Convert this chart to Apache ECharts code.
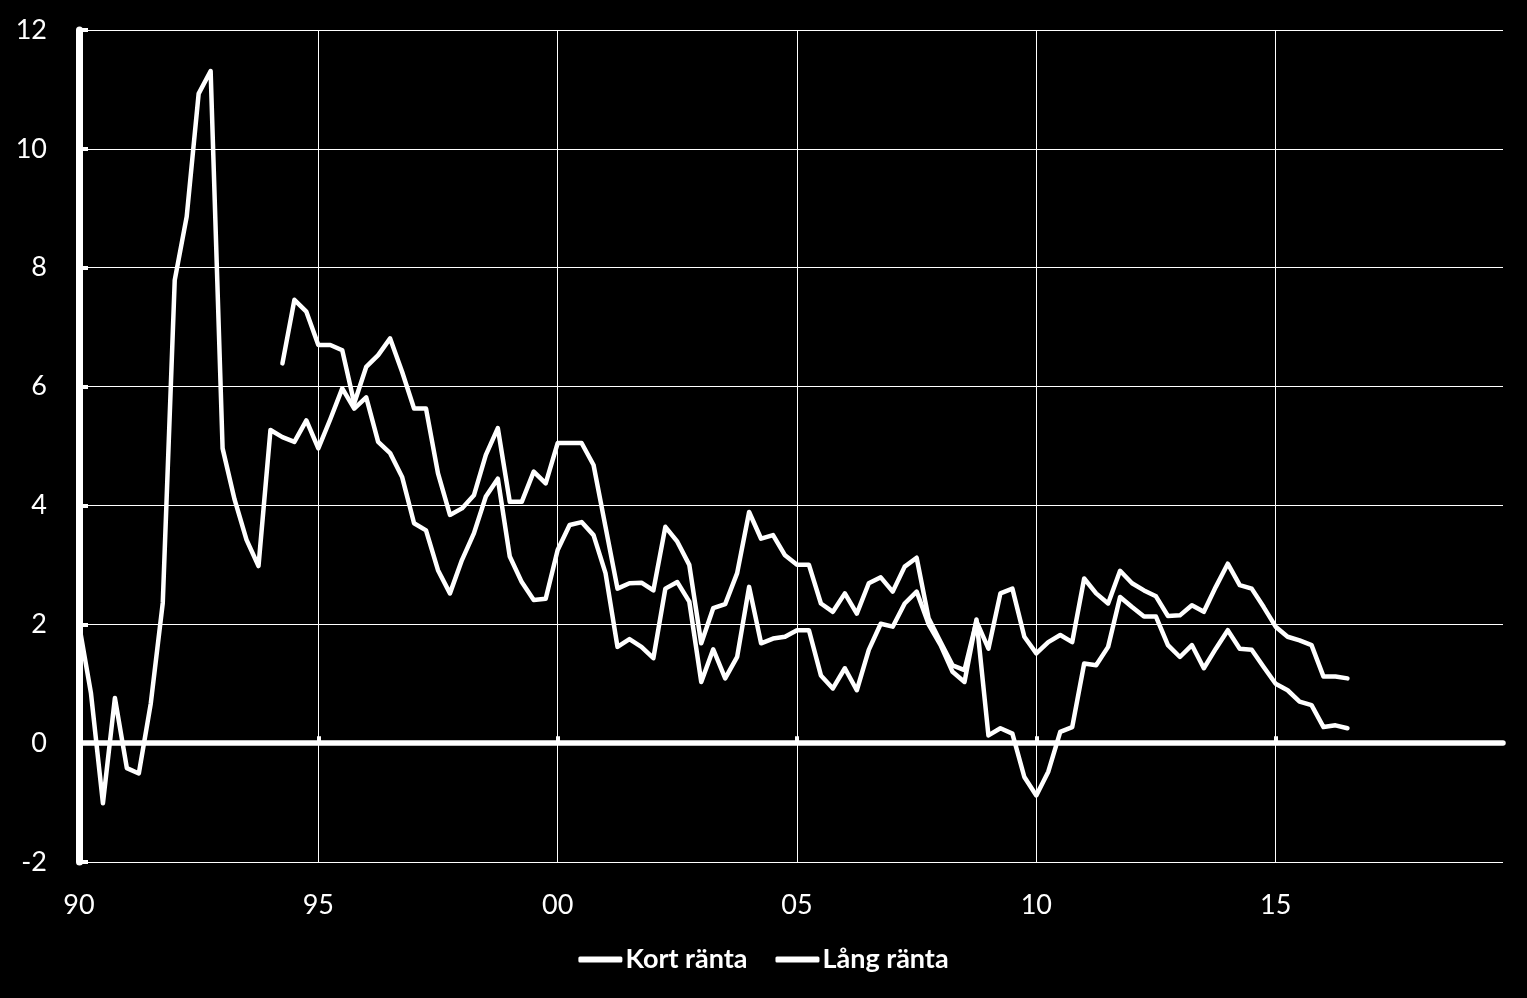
<!DOCTYPE html>
<html>
<head>
<meta charset="utf-8">
<script src="https://cdn.jsdelivr.net/npm/echarts@6/dist/echarts.min.js"></script>
<style>
html,body{margin:0;padding:0;background:#000;}
#chart{width:1527px;height:998px;}
</style>
</head>
<body>
<div id="chart"></div>
<script>
// Quarterly categories 1990Q1 .. 2019Q4
var years = [];
for (var y = 1990; y <= 2019; y++) years.push(y);
var categories = [];
years.forEach(function (yr) { for (var q = 1; q <= 4; q++) categories.push(yr + 'Q' + q); });

var tickLabels = ['90', '95', '00', '05', '10', '15'];

var seriesNames = ['Kort ränta', 'Lång ränta'];

var kortRanta = [
  2.0, 0.84, -1.01, 0.76, -0.42, -0.51, 0.67, 2.36, 7.79, 8.86,
  10.93, 11.31, 4.96, 4.1, 3.42, 2.98, 5.27, 5.15, 5.07, 5.43,
  4.96, 5.45, 5.97, 5.63, 5.82, 5.07, 4.88, 4.48, 3.70, 3.58,
  2.91, 2.52, 3.08, 3.53, 4.15, 4.45, 3.14, 2.71, 2.41, 2.43,
  3.25, 3.67, 3.72, 3.50, 2.86, 1.62, 1.75, 1.62, 1.43, 2.60,
  2.71, 2.38, 1.03, 1.58, 1.09, 1.45, 2.63, 1.68, 1.76, 1.79,
  1.90, 1.90, 1.14, 0.92, 1.26, 0.89, 1.57, 2.01, 1.96, 2.35,
  2.55, 2.0, 1.65, 1.2, 1.03, 2.08, 0.13, 0.25, 0.16, -0.57,
  -0.88, -0.48, 0.19, 0.27, 1.34, 1.31, 1.62, 2.46, 2.29, 2.13,
  2.13, 1.65, 1.45, 1.65, 1.26, 1.59, 1.90, 1.59, 1.57, 1.28,
  1.00, 0.89, 0.70, 0.64, 0.27, 0.30, 0.25
];

var langRanta = [
  null, null, null, null, null, null, null, null, null, null,
  null, null, null, null, null, null, null, 6.39, 7.46, 7.26,
  6.70, 6.70, 6.61, 5.72, 6.33, 6.53, 6.81, 6.25, 5.63, 5.63,
  4.54, 3.84, 3.95, 4.17, 4.85, 5.30, 4.06, 4.06, 4.57, 4.37,
  5.05, 5.05, 5.05, 4.68, 3.64, 2.60, 2.69, 2.70, 2.57, 3.64,
  3.39, 3.00, 1.68, 2.27, 2.34, 2.86, 3.89, 3.44, 3.50, 3.16,
  3.00, 3.00, 2.35, 2.21, 2.52, 2.18, 2.69, 2.79, 2.55, 2.97,
  3.12, 2.1, 1.7, 1.31, 1.23, 2.05, 1.59, 2.52, 2.60, 1.79,
  1.51, 1.70, 1.82, 1.70, 2.77, 2.52, 2.35, 2.90, 2.69, 2.57,
  2.47, 2.14, 2.15, 2.32, 2.21, 2.63, 3.02, 2.66, 2.60, 2.29,
  1.96, 1.79, 1.73, 1.65, 1.12, 1.12, 1.09
];

var chart = echarts.init(document.getElementById('chart'));
var FONT = 'Lato';
var tickEvery = 20;

function xLabel(val, idx) {
  return idx % tickEvery === 0 ? tickLabels[idx / tickEvery] : '';
}

chart.setOption({
  backgroundColor: '#000000',
  animation: false,
  textStyle: { fontFamily: FONT },
  grid: { left: 79, right: 24, top: 30, bottom: 136, containLabel: false },
  legend: {
    bottom: 20,
    left: 'center',
    icon: 'roundRect',
    itemWidth: 44,
    itemHeight: 6,
    itemGap: 28,
    textStyle: { color: '#ffffff', fontSize: 27, fontWeight: 'bold', fontFamily: FONT, padding: [0, 0, 0, -2] },
    data: seriesNames.map(function (n) { return { name: n, itemStyle: { color: '#ffffff' } }; })
  },
  xAxis: [
    {
      type: 'category',
      data: categories,
      boundaryGap: false,
      position: 'bottom',
      axisLine: { show: false, onZero: false },
      axisTick: { show: false },
      axisLabel: {
        color: '#ffffff', fontSize: 27, fontFamily: FONT, margin: 30,
        interval: tickEvery - 1, formatter: xLabel
      },
      splitLine: { show: true, interval: tickEvery - 1, lineStyle: { color: '#ffffff', width: 1 } }
    },
    {
      type: 'category',
      data: categories,
      boundaryGap: false,
      position: 'bottom',
      axisLine: { show: true, onZero: true, lineStyle: { color: '#ffffff', width: 5.5 } },
      axisTick: { show: true, inside: true, length: 7, interval: tickEvery - 1, lineStyle: { color: '#ffffff', width: 4 } },
      axisLabel: { show: false },
      splitLine: { show: false }
    }
  ],
  yAxis: {
    type: 'value',
    min: -2,
    max: 12,
    interval: 2,
    position: 'left',
    axisLine: { show: true, onZero: false, lineStyle: { color: '#ffffff', width: 7 } },
    axisTick: { show: true, inside: true, length: 9, lineStyle: { color: '#ffffff', width: 4 } },
    axisLabel: { color: '#ffffff', fontSize: 27, fontFamily: FONT, margin: 32 },
    splitLine: { show: true, lineStyle: { color: '#ffffff', width: 1 } }
  },
  series: [
    {
      name: seriesNames[0],
      type: 'line',
      data: kortRanta,
      symbol: 'none',
      connectNulls: false,
      lineStyle: { color: '#ffffff', width: 4.5, join: 'round', cap: 'round' },
      itemStyle: { color: '#ffffff' },
      z: 3
    },
    {
      name: seriesNames[1],
      type: 'line',
      data: langRanta,
      symbol: 'none',
      connectNulls: false,
      lineStyle: { color: '#ffffff', width: 4.5, join: 'round', cap: 'round' },
      itemStyle: { color: '#ffffff' },
      z: 3
    }
  ]
});
</script>
</body>
</html>
